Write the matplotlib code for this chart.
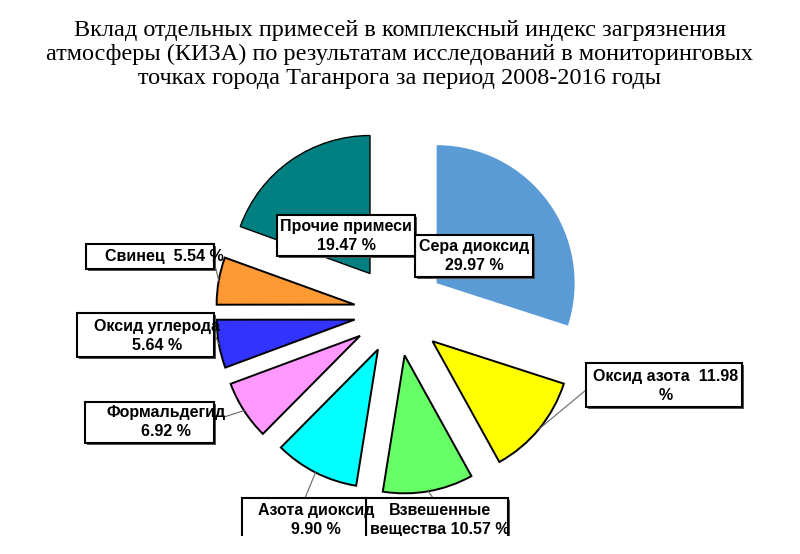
import numpy as np
import matplotlib
matplotlib.use("Agg")
import matplotlib.pyplot as plt
from matplotlib.patches import Rectangle

# data
labels = ["Сера диоксид", "Оксид азота", "Взвешенные вещества", "Азота диоксид",
          "Формальдегид", "Оксид углерода", "Свинец", "Прочие примеси"]
values = [29.97, 11.98, 10.57, 9.90, 6.92, 5.64, 5.54, 19.47]
label_texts = ["Сера диоксид\n29.97 %", "Оксид азота  11.98\n%", "Взвешенные\nвещества 10.57 %",
               "Азота диоксид\n9.90 %", "Формальдегид\n6.92 %", "Оксид углерода\n5.64 %",
               "Свинец  5.54 %", "Прочие примеси\n19.47 %"]

title_lines = ["Вклад отдельных примесей в комплексный индекс загрязнения",
               "атмосферы (КИЗА) по результатам исследований в мониторинговых",
               "точках города Таганрога за период 2008-2016 годы"]

# style
colors = ["#5b9bd5", "#ffff00", "#66ff66", "#00ffff", "#ff99ff", "#3333ff", "#ff9933", "#008080"]
R = 138
CENTER = (397, 312)
# explode offsets are in data units (pixels here)
explode = [49, 46, 44, 42, 44, 43, 43, 47]

# label layout in pixel coords (y down): text centre, box (x0, y0, x1, y1), leader anchor
text_pos = [(474, 256), (666, 386), (440, 520), (316, 520), (166, 422), (157, 336), (164, 256), (346, 236)]
boxes = [(415, 235, 533, 277), (586, 363, 742, 407), (366, 498, 508, 570), (242, 498, 366, 570),
         (85, 402, 214, 443), (77, 313, 214, 357), (86, 244, 214, 269), (277, 215, 415, 256)]
anchors = [None, (586, 390), (433, 498), (305, 498), (224, 417), (214, 333), (215, 265), None]

fig = plt.figure(figsize=(8, 5.54), dpi=100)
ax = fig.add_axes([0, 0, 1, 1])

wedges, _ = ax.pie(values, colors=colors, explode=explode, radius=R, center=CENTER,
                   startangle=-90, counterclock=True,
                   wedgeprops=dict(edgecolor="black", linewidth=1.4))
wedges[0].set_edgecolor("none")
wedges[7].set_linewidth(1.0)

ax.set_xlim(0, 800)
ax.set_ylim(554, 0)
ax.set_axis_off()

font = dict(family="Liberation Sans", weight="bold", fontsize=11.5)

for i, w in enumerate(wedges):
    x0, y0, x1, y1 = boxes[i]
    ax.add_patch(Rectangle((x0 + 2, y0 + 2), x1 - x0, y1 - y0, facecolor="#555555",
                           edgecolor="none", zorder=4))
    ax.add_patch(Rectangle((x0, y0), x1 - x0, y1 - y0, facecolor="white",
                           edgecolor="black", linewidth=1.5, zorder=5))
    tx, ty = text_pos[i]
    ax.text(tx, ty, label_texts[i], ha="center", va="center", multialignment="center",
            linespacing=1.3, zorder=7, **font)
    if anchors[i] is not None:
        mid = np.deg2rad((w.theta1 + w.theta2) / 2)
        cx, cy = w.center
        px, py = cx + w.r * np.cos(mid), cy + w.r * np.sin(mid)
        ax.plot([px, anchors[i][0]], [py, anchors[i][1]], color="#666666", lw=0.8, zorder=3)

# bottom of the picture is cut off
ax.add_patch(Rectangle((0, 536), 800, 30, facecolor="white", edgecolor="none", zorder=8))

for line, yb in zip(title_lines, [36, 60, 84]):
    ax.text(400, yb, line, ha="center", va="baseline", family="Liberation Serif",
            fontsize=17.5, zorder=9)

fig.savefig("out.png", dpi=100)
